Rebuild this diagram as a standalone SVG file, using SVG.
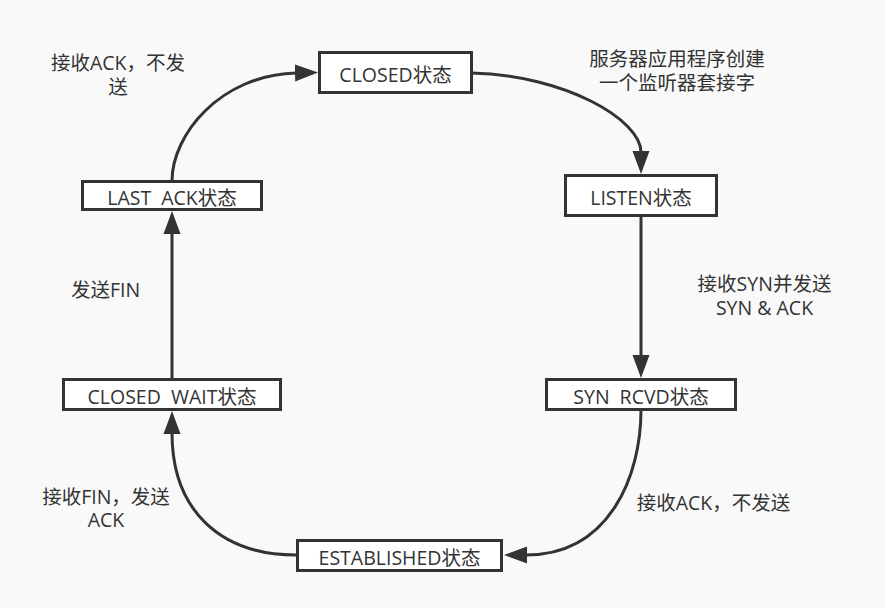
<svg xmlns="http://www.w3.org/2000/svg" width="885" height="608" viewBox="0 0 885 608">
<style>
.node rect{fill:#ffffff;stroke:#333333;stroke-width:3}
.node text,.label{font-family:"Open Sans","Noto Sans CJK SC",sans-serif;font-size:19.5px;fill:#333333;text-anchor:middle}
.edge{fill:none;stroke:#333333;stroke-width:3}
</style>
<defs>
<marker id="arr" markerUnits="userSpaceOnUse" markerWidth="24" markerHeight="18" viewBox="0 -9 24 18" refX="1" refY="0" orient="auto">
<path d="M0,-8.5 L23,0 L0,8.5 z" fill="#333333"/>
</marker>
</defs>
<rect x="0" y="0" width="885" height="608" fill="#f9f9f9"/>
<g id="connectors">
<path class="edge" d="M471.5,73 C565,75 641,120 641,152" marker-end="url(#arr)"/>
<path class="edge" d="M641,217 L641,356" marker-end="url(#arr)"/>
<path class="edge" d="M641,410 C641,475 610,555 526,555" marker-end="url(#arr)"/>
<path class="edge" d="M296,555 C220,555 172,510 172,433" marker-end="url(#arr)"/>
<path class="edge" d="M172,378 L172,233" marker-end="url(#arr)"/>
<path class="edge" d="M172,181 C172,135 220,75 296,73" marker-end="url(#arr)"/>
</g>
<g id="closed" class="node"><rect x="319.5" y="52.5" width="152" height="40"/><text x="395.5" y="81.5">CLOSED状态</text></g>
<g id="listen" class="node"><rect x="565.5" y="175.5" width="151" height="40"/><text x="641" y="204.5">LISTEN状态</text></g>
<g id="syn_rcvd" class="node"><rect x="546.5" y="379.5" width="189" height="30"/><text x="641" y="403.5" word-spacing="5">SYN RCVD状态</text></g>
<g id="established" class="node"><rect x="297.5" y="540.5" width="204" height="30"/><text x="399.5" y="564.5">ESTABLISHED状态</text></g>
<g id="closed_wait" class="node"><rect x="63.5" y="379.5" width="217" height="30"/><text x="172" y="403.5" word-spacing="5">CLOSED WAIT状态</text></g>
<g id="last_ack" class="node"><rect x="82.5" y="181.5" width="179" height="28"/><text x="172" y="204.5" word-spacing="5">LAST ACK状态</text></g>
<g id="labels">
<text class="label" x="118" y="70"><tspan x="118" y="70">接收ACK，不发</tspan><tspan x="118" y="94">送</tspan></text>
<text class="label" x="677" y="65.5"><tspan x="677" y="65.5">服务器应用程序创建</tspan><tspan x="677" y="89.5">一个监听器套接字</tspan></text>
<text class="label" x="764.5" y="290.5"><tspan x="764.5" y="290.5">接收SYN并发送</tspan><tspan x="764.5" y="314.5">SYN &amp; ACK</tspan></text>
<text class="label" x="713.5" y="509.5">接收ACK，不发送</text>
<text class="label" x="106" y="503.5"><tspan x="106" y="503.5">接收FIN，发送</tspan><tspan x="106" y="527">ACK</tspan></text>
<text class="label" x="105.5" y="296.5">发送FIN</text>
</g>
</svg>
